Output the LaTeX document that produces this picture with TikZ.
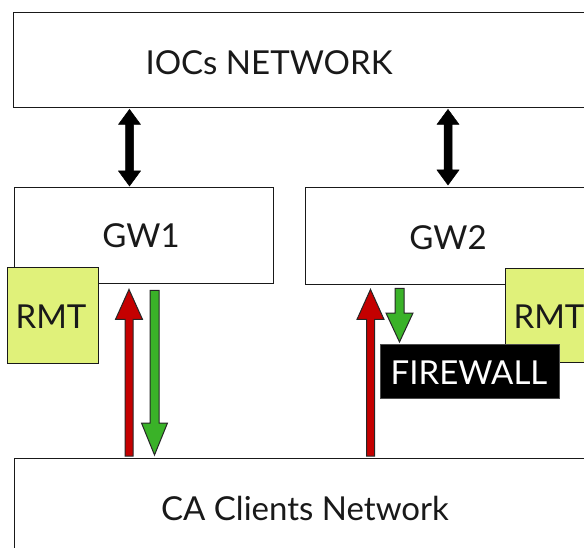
\documentclass[tikz,border=0pt]{standalone}
\usepackage{fontspec}
\setmainfont{Lato}
\usetikzlibrary{calc}
\definecolor{rmtcol}{RGB}{224,241,122}
\definecolor{redar}{RGB}{196,0,0}
\definecolor{greenar}{RGB}{58,178,40}
\definecolor{edge}{RGB}{25,25,25}
\newcommand\vblock[6]{\filldraw[#1] ($(#2)+(-#4,0)$) -- ($(#3)+(-#4,#5)$) -- ($(#3)+(-#6,#5)$) -- (#3) -- ($(#3)+(#6,#5)$) -- ($(#3)+(#4,#5)$) -- ($(#2)+(#4,0)$) -- cycle;}
\newcommand\vdouble[6]{\filldraw[#1] (#2) -- ($(#2)+(#6,#5)$) -- ($(#2)+(#4,#5)$) -- ($(#3)+(#4,-#5)$) -- ($(#3)+(#6,-#5)$) -- (#3) -- ($(#3)+(-#6,-#5)$) -- ($(#3)+(-#4,-#5)$) -- ($(#2)+(-#4,#5)$) -- ($(#2)+(-#6,#5)$) -- cycle;}
\begin{document}
\begin{tikzpicture}[x=1pt,y=-1pt,
  box/.style={draw=edge, line width=1.4pt, fill=white, inner sep=0pt, anchor=north west},
  rmtbox/.style={box, fill=rmtcol},
  fwbox/.style={fill=black, draw=black!70, line width=0.8pt, inner sep=0pt, anchor=north west},
  txt/.style={font=\fontsize{33}{40}\selectfont, anchor=base, inner sep=0pt, text=black!90},
  redarrow/.style={fill=redar, draw=black!85, line width=1pt, line join=miter},
  greenarrow/.style={fill=greenar, draw=black!85, line width=1pt, line join=miter},
  blackarrow/.style={fill=black, draw=black, line width=0.5pt, line join=miter}]
\useasboundingbox (0,0) rectangle (584,548);
\fill[white] (0,0) rectangle (584,548);
\clip (0,0) rectangle (584,548);
% boxes
\node[box, minimum width=640pt, minimum height=95pt] (ioc) at (13,12) {};
\node[txt] (ioct) at (269,75) {IOCs NETWORK};
\node[box, minimum width=259pt, minimum height=96pt] (gw1) at (14,187) {};
\node[txt] (gw1t) at (141,248) {GW1};
\node[box, minimum width=340pt, minimum height=97pt] (gw2) at (305,187) {};
\node[txt] (gw2t) at (448,250) {GW2};
\node[rmtbox, minimum width=91pt, minimum height=96pt] (rmt1) at (7,267) {};
\node[txt] (rmt1t) at (51,328) {RMT};
\node[rmtbox, minimum width=91pt, minimum height=94pt] (rmt2) at (505,268) {};
\node[txt] (rmt2t) at (549,328) {RMT};
\node[fwbox, minimum width=179pt, minimum height=54pt] (fw) at (380,344) {};
\node[txt, text=white] (fwt) at (469,384) {FIREWALL};
\node[box, minimum width=640pt, minimum height=120pt] (ca) at (14,458) {};
\node[txt] (cat) at (305,520) {CA Clients Network};
% connector end points
\coordinate (b1a) at ($(129.5,0 |- ioc.south)+(0,1)$);
\coordinate (b1b) at ($(129.5,0 |- gw1.north)+(0,-1)$);
\coordinate (b2a) at ($(448,0 |- ioc.south)+(0,1)$);
\coordinate (b2b) at ($(448,0 |- gw2.north)+(0,-2)$);
\coordinate (r1t) at ($(129,0 |- ca.north)+(0,-2)$);
\coordinate (r1h) at ($(129,0 |- gw1.south)+(0,5)$);
\coordinate (g1t) at ($(154.5,0 |- gw1.south)+(0,6)$);
\coordinate (g1h) at ($(154.5,0 |- ca.north)+(0,-3)$);
\coordinate (r2t) at ($(370.5,0 |- ca.north)+(0,-2)$);
\coordinate (r2h) at ($(370.5,0 |- gw2.south)+(0,4)$);
\coordinate (g2t) at ($(399.5,0 |- gw2.south)+(0,3)$);
\coordinate (g2h) at ($(399.5,0 |- fw.north)+(0,-2)$);
% arrows
\vdouble{blackarrow}{b1a}{b1b}{4}{15}{11}
\vdouble{blackarrow}{b2a}{b2b}{4}{15}{11}
\vblock{redarrow}{r1t}{r1h}{4}{30}{13.5}
\vblock{greenarrow}{g1t}{g1h}{4.5}{-32}{13}
\vblock{redarrow}{r2t}{r2h}{4}{30}{13.5}
\vblock{greenarrow}{g2t}{g2h}{4.5}{-29}{13.5}
\end{tikzpicture}
\end{document}
